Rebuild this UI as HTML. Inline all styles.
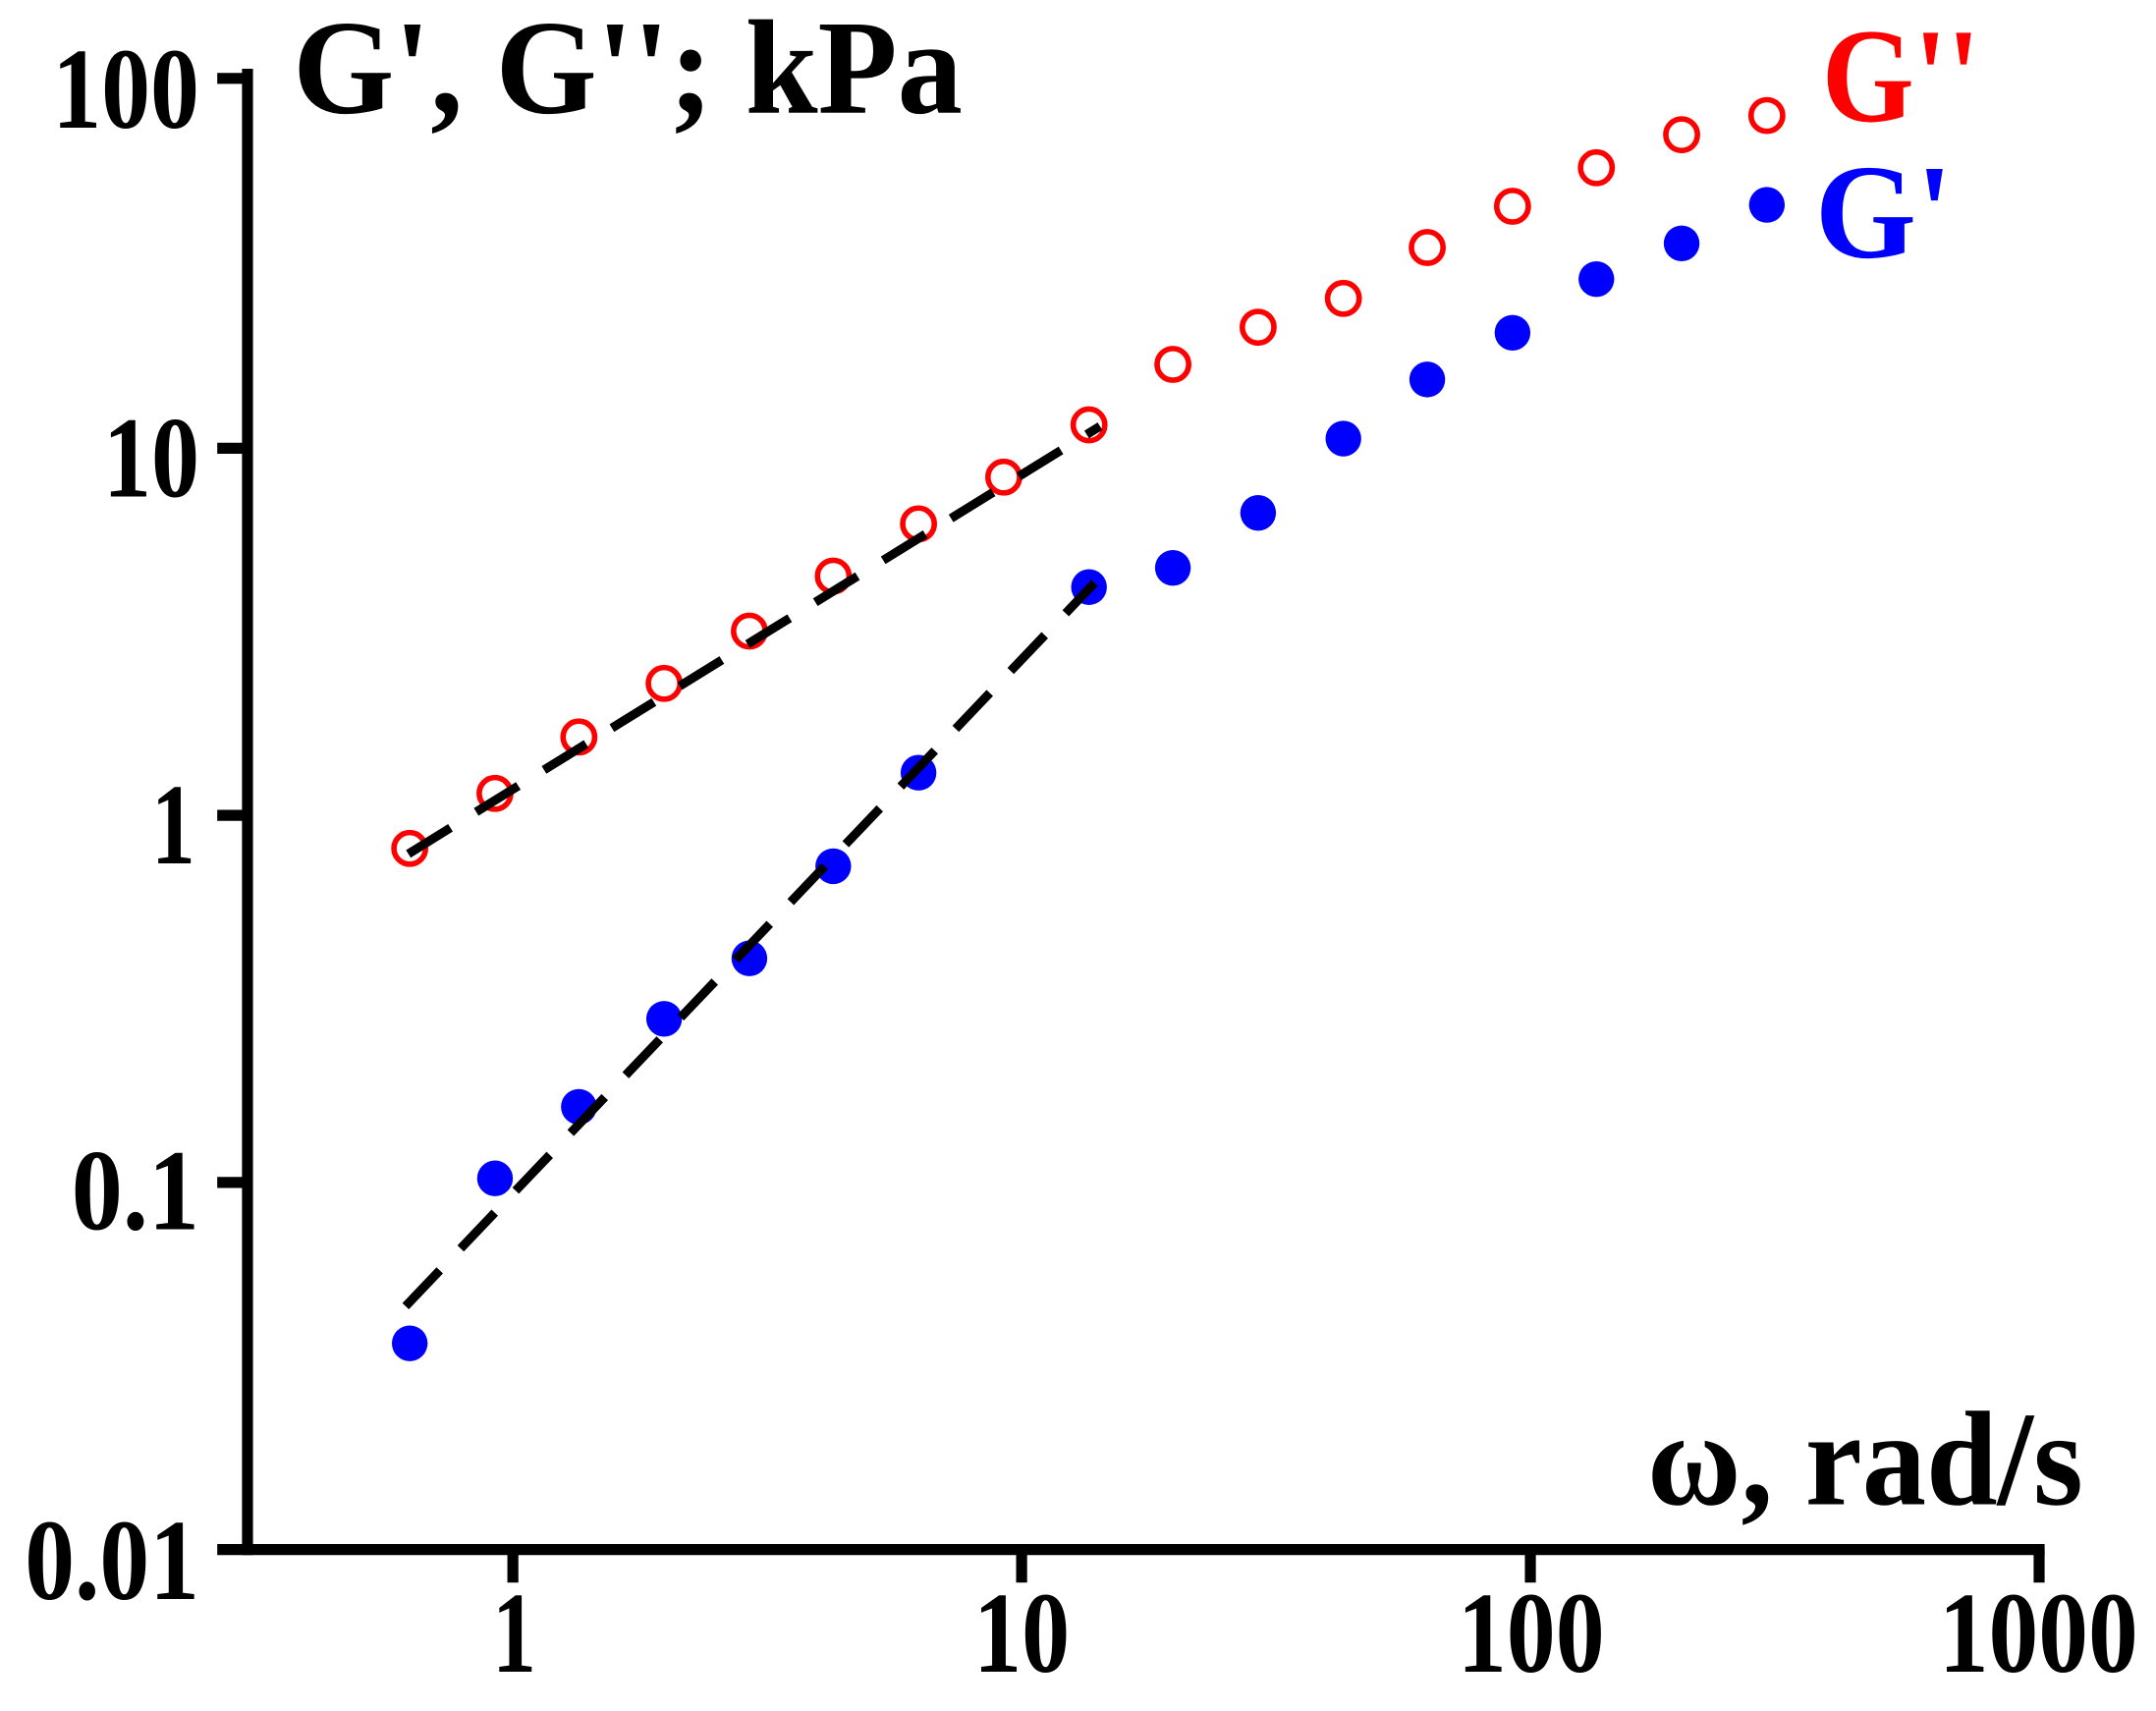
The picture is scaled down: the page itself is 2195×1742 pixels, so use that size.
<!DOCTYPE html>
<html><head><meta charset="utf-8"><style>
html,body{margin:0;padding:0;background:#fff;}
svg{display:block;}
text{font-family:"Liberation Serif","Times New Roman",serif;font-weight:bold;}
</style></head><body>
<svg width="2195" height="1742" viewBox="0 0 1568 1244.4" preserveAspectRatio="none" xmlns="http://www.w3.org/2000/svg">
<rect width="1568" height="1245" fill="#fff"/>
<g stroke="#000" stroke-width="8" fill="none">
<line x1="180" y1="50" x2="180" y2="1131"/>
<line x1="158" y1="1127" x2="1487" y2="1127"/>
<line x1="158" y1="57" x2="180" y2="57"/>
<line x1="158" y1="326" x2="180" y2="326"/>
<line x1="158" y1="593" x2="180" y2="593"/>
<line x1="158" y1="860" x2="180" y2="860"/>
<line x1="373" y1="1127" x2="373" y2="1151"/>
<line x1="743" y1="1127" x2="743" y2="1151"/>
<line x1="1113" y1="1127" x2="1113" y2="1151"/>
<line x1="1483" y1="1127" x2="1483" y2="1151"/>
</g>
<g font-size="84" fill="#000">
<text x="38" y="93" textLength="107" lengthAdjust="spacingAndGlyphs">100</text>
<text x="75" y="361" textLength="70" lengthAdjust="spacingAndGlyphs">10</text>
<text x="110" y="628" textLength="32" lengthAdjust="spacingAndGlyphs">1</text>
<text x="52" y="894" textLength="93" lengthAdjust="spacingAndGlyphs">0.1</text>
<text x="18" y="1163" textLength="127" lengthAdjust="spacingAndGlyphs">0.01</text>
<text x="358" y="1216" textLength="32" lengthAdjust="spacingAndGlyphs">1</text>
<text x="708" y="1216" textLength="70" lengthAdjust="spacingAndGlyphs">10</text>
<text x="1060" y="1216" textLength="107" lengthAdjust="spacingAndGlyphs">100</text>
<text x="1410" y="1216" textLength="145" lengthAdjust="spacingAndGlyphs">1000</text>
</g>
<text x="213" y="82" font-size="98" textLength="487" lengthAdjust="spacingAndGlyphs">G', G''; kPa</text>
<text x="1198" y="1094" font-size="98" textLength="317" lengthAdjust="spacingAndGlyphs">ω, rad/s</text>
<text x="1325" y="88" font-size="98" fill="#ff0000" textLength="115" lengthAdjust="spacingAndGlyphs">G''</text>
<text x="1320" y="187" font-size="98" fill="#0000ff" textLength="100" lengthAdjust="spacingAndGlyphs">G'</text>
<g fill="none" stroke="#ff0000" stroke-width="4">
<circle cx="298" cy="617" r="11.5"/><circle cx="360" cy="577" r="11.5"/><circle cx="421" cy="536" r="11.5"/>
<circle cx="483" cy="497" r="11.5"/><circle cx="545" cy="459" r="11.5"/><circle cx="606" cy="419" r="11.5"/>
<circle cx="668" cy="381" r="11.5"/><circle cx="730" cy="347" r="11.5"/><circle cx="792" cy="309" r="11.5"/>
<circle cx="853" cy="265" r="11.5"/><circle cx="915" cy="238" r="11.5"/><circle cx="977" cy="217" r="11.5"/>
<circle cx="1038" cy="180" r="11.5"/><circle cx="1100" cy="150" r="11.5"/><circle cx="1161" cy="122" r="11.5"/>
<circle cx="1223" cy="98" r="11.5"/><circle cx="1285" cy="84" r="11.5"/>
</g>
<g fill="#0000ff">
<circle cx="298" cy="977" r="13"/><circle cx="360" cy="857" r="13"/><circle cx="421" cy="805" r="13"/>
<circle cx="483" cy="741" r="13"/><circle cx="545" cy="697" r="13"/><circle cx="606" cy="630" r="13"/>
<circle cx="668" cy="562" r="13"/><circle cx="792" cy="427" r="13"/><circle cx="853" cy="413" r="13"/>
<circle cx="915" cy="373" r="13"/><circle cx="977" cy="319" r="13"/><circle cx="1038" cy="276" r="13"/>
<circle cx="1100" cy="242" r="13"/><circle cx="1161" cy="203" r="13"/><circle cx="1223" cy="177" r="13"/>
<circle cx="1285" cy="149" r="13"/>
</g>
<g stroke="#000" stroke-width="6.5" stroke-dasharray="36,22" fill="none">
<line x1="297" y1="621" x2="800" y2="310"/>
<line x1="295" y1="950" x2="796" y2="424"/>
</g>
</svg>
</body></html>
